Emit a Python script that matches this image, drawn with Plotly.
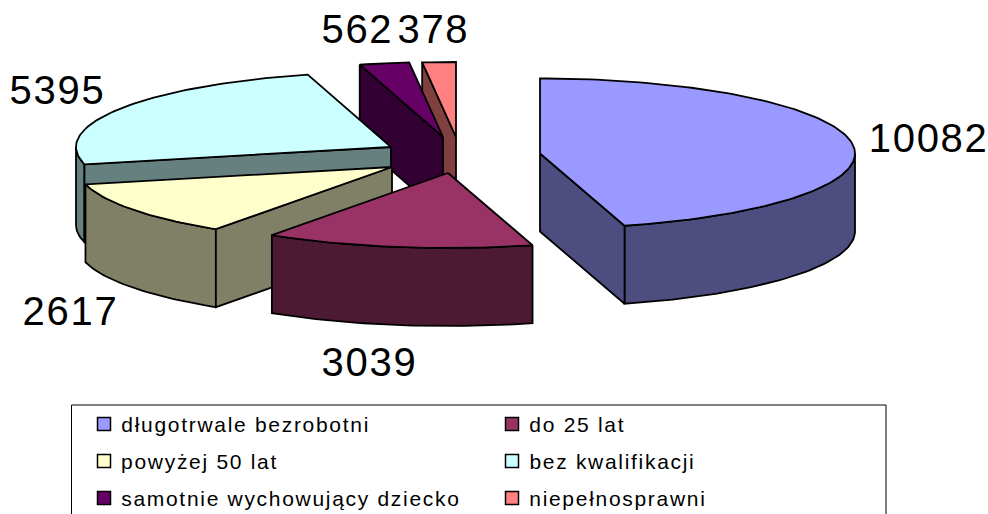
import math
import plotly.graph_objects as go

# --- data ---
categories = ["długotrwale bezrobotni", "do 25 lat", "powyżej 50 lat",
              "bez kwalifikacji", "samotnie wychowujący dziecko", "niepełnosprawni"]
values = [10082, 3039, 2617, 5395, 562, 378]

# --- styles / layout ---
top_colors = ["#9999FF", "#993366", "#FFFFCC", "#CCFFFF", "#660066", "#FF8080"]
side_colors = ["#4D4D80", "#4D1A33", "#808066", "#668080", "#330033", "#804040"]
apexes = [(540, 153.5), (448, 173), (392, 167), (391, 147), (443, 137), (456, 137)]
label_pos = [(928, 138), (369, 362), (70, 311), (57, 90), (357, 29), (433, 29)]
legend_marker_x = [104, 512]
legend_text_x = [119, 527]
legend_row_y = [424, 461, 498]
RX, RY, DEPTH = 315, 75, 78
LINE = dict(color="black", width=1.8)
SPACING = 1.7

total = sum(values)
spans = []
acc = 0.0
for v in values:
    spans.append((acc, acc + v / total * 2 * math.pi))
    acc += v / total * 2 * math.pi


def rim(apex, a0, a1):
    n = max(2, int(abs(a1 - a0) / 0.02))
    pts = [a0 + (a1 - a0) * i / n for i in range(n + 1)]
    return [(apex[0] + RX * math.sin(a), apex[1] - RY * math.cos(a)) for a in pts]


def poly(points, color):
    xs = [p[0] for p in points] + [points[0][0]]
    ys = [p[1] for p in points] + [points[0][1]]
    return go.Scatter(x=xs, y=ys, mode="lines", fill="toself", fillcolor=color,
                      line=LINE, hoverinfo="skip", showlegend=False)


fig = go.Figure()
for i in [5, 4, 3, 2, 1, 0]:
    a0, a1 = spans[i]
    ap = apexes[i]
    # outer wall (only the part facing the viewer)
    lo, hi = max(a0, math.pi / 2), min(a1, 3 * math.pi / 2)
    if lo < hi:
        r = rim(ap, lo, hi)
        fig.add_trace(poly(r + [(x, y + DEPTH) for x, y in reversed(r)], side_colors[i]))
    # radial cut wall, when it faces the viewer
    for ang, sign in ((a0, -1), (a1, 1)):
        if sign * math.sin(ang) > 1e-6:
            e = rim(ap, ang, ang)[0]
            fig.add_trace(poly([ap, e, (e[0], e[1] + DEPTH), (ap[0], ap[1] + DEPTH)], side_colors[i]))
    # top face
    fig.add_trace(poly([ap] + rim(ap, a0, a1), top_colors[i]))

# data labels
for v, (x, y) in zip(values, label_pos):
    fig.add_annotation(x=x, y=y, text=str(v), showarrow=False, xanchor="center", yanchor="middle",
                       font=dict(family="Liberation Sans", size=40, color="black"))

# legend box
fig.add_shape(type="rect", x0=71.5, x1=886, y0=405, y1=530, line=dict(color="black", width=1), layer="below")

# legend
for i, name in enumerate(categories):
    col, row = i % 2, i // 2
    fig.add_trace(go.Scatter(x=[legend_marker_x[col]], y=[legend_row_y[row]], mode="markers",
                             marker=dict(symbol="square", size=13, color=top_colors[i],
                                         line=dict(color="black", width=1.5)),
                             hoverinfo="skip", showlegend=False))
    # letter spacing widens the text about its middle, so the start is moved to compensate
    fig.add_annotation(x=legend_text_x[col] + len(name) * SPACING / 2, y=legend_row_y[row], text=name,
                       showarrow=False, xanchor="left", yanchor="middle",
                       font=dict(family="Liberation Sans", size=21, color="black"))

fig.update_layout(width=988, height=514, margin=dict(l=0, r=0, t=0, b=0),
                  paper_bgcolor="white", plot_bgcolor="white", showlegend=False,
                  xaxis=dict(range=[0, 988], visible=False, fixedrange=True),
                  yaxis=dict(range=[514, 0], visible=False, fixedrange=True))

post = """
document.body.style.margin='0';document.body.style.overflow='hidden';
var st=document.createElement('style');
st.textContent='.annotation-text{letter-spacing:%spx}';
document.head.appendChild(st);
Plotly.redraw(document.getElementById('{plot_id}'));
""" % SPACING
fig.write_html("out.html", config=dict(displayModeBar=False), post_script=post)
